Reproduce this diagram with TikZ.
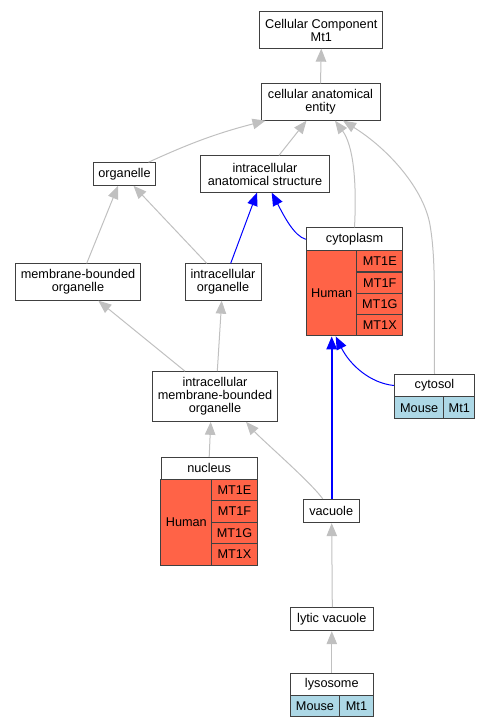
\documentclass[tikz,border=0pt]{standalone}
\usepackage{fontspec}
\setmainfont{Liberation Sans}
\usetikzlibrary{arrows.meta}

\definecolor{boxline}{HTML}{404040}
\definecolor{edgegray}{HTML}{C0C0C0}
\definecolor{tomato}{HTML}{FF6347}
\definecolor{lightblue}{HTML}{ADD8E6}
\newcommand\termfont{\fontsize{12.7}{13}\selectfont}

\tikzset{
  term/.style={draw=boxline, line width=1pt, fill=white, inner sep=0pt, align=center, font=\termfont},
  human/.style={term, fill=tomato},
  mouse/.style={term, fill=lightblue},
  isa/.style={draw=edgegray, line width=1pt, -{Triangle[length=13pt,width=10.5pt]}},
  partof/.style={draw=blue, line width=1pt, -{Triangle[length=13pt,width=10.5pt]}},
}

\begin{document}
\begin{tikzpicture}[x=1pt,y=-1pt]
  \useasboundingbox (0,0) rectangle (491,728);
  % terms
  \node[term, minimum width=122.7, minimum height=36.3] (cc) at (321.3,30) {Cellular Component\\Mt1};
  \node[term, minimum width=119, minimum height=36.3] (cae) at (320.5,102) {cellular anatomical\\entity};
  \node[term, minimum width=62.7, minimum height=22.6] (org) at (124.5,174) {organelle};
  \node[term, minimum width=128.3, minimum height=36.3] (ias) at (265,174) {intracellular\\anatomical structure};
  \node[term, minimum width=124.3, minimum height=36.3] (mbo) at (78,282) {membrane-bounded\\organelle};
  \node[term, minimum width=76, minimum height=36.3] (io) at (223,282) {intracellular\\organelle};
  \node[term, minimum width=124.3, minimum height=49.6] (imbo) at (215,396.5) {intracellular\\membrane-bounded\\organelle};
  \node[term, minimum width=55.7, minimum height=23.4] (vac) at (331.2,511) {vacuole};
  \node[term, minimum width=83, minimum height=23] (lytic) at (331.8,619.2) {lytic vacuole};
  % cytoplasm
  \node[term, minimum width=96.4, minimum height=22.7] (cyto) at (354.5,239.3) {cytoplasm};
  \node[human, minimum width=50.7, minimum height=85.3] (cytohuman) at (331.7,293.3) {Human};
  \node[human, minimum width=45.7, minimum height=21.3] (cytoe) at (379.8,261.3) {MT1E};
  \node[human, minimum width=45.7, minimum height=21.3] (cytof) at (379.8,282.7) {MT1F};
  \node[human, minimum width=45.7, minimum height=21.3] (cytog) at (379.8,304) {MT1G};
  \node[human, minimum width=45.7, minimum height=21.3] (cytox) at (379.8,325.3) {MT1X};
  % cytosol
  \node[term, minimum width=80.4, minimum height=22.4] (cytosol) at (434.5,385.5) {cytosol};
  \node[mouse, minimum width=49.7, minimum height=22.3] (cytosolmouse) at (419.2,407.8) {Mouse};
  \node[mouse, minimum width=30.7, minimum height=22.3] (cytosolmt) at (459.3,407.8) {Mt1};
  % nucleus
  \node[term, minimum width=96.3, minimum height=22] (nuc) at (209.2,468.3) {nucleus};
  \node[human, minimum width=50.7, minimum height=85.7] (nuchuman) at (186.3,522.2) {Human};
  \node[human, minimum width=45.6, minimum height=21.4] (nuce) at (234.5,490) {MT1E};
  \node[human, minimum width=45.6, minimum height=21.4] (nucf) at (234.5,511.5) {MT1F};
  \node[human, minimum width=45.6, minimum height=21.4] (nucg) at (234.5,533) {MT1G};
  \node[human, minimum width=45.6, minimum height=21.4] (nucx) at (234.5,554.3) {MT1X};
  % lysosome
  \node[term, minimum width=83, minimum height=22.4] (lyso) at (331.8,684.5) {lysosome};
  \node[mouse, minimum width=49.4, minimum height=21] (lysomouse) at (315,706.2) {Mouse};
  \node[mouse, minimum width=33.6, minimum height=21] (lysomt) at (356.5,706.2) {Mt1};
  % is_a
  \draw[isa] (cae.north) -- (cc.south);
  \draw[isa] ([xshift=24pt]org.north) to[bend left=5] ([xshift=-55pt]cae.south);
  \draw[isa] ([xshift=14pt]ias.north) -- ([xshift=-14pt]cae.south);
  \draw[isa] (cyto.north) .. controls (357,180) and (353,145) .. ([xshift=14.5pt]cae.south);
  \draw[isa] (cytosol.north) .. controls (434,300) and (436,260) .. (430,225) .. controls (424,190) and (390,150) .. ([xshift=22.5pt]cae.south);
  \draw[isa] ([xshift=8.7pt]mbo.north) -- ([xshift=-6.5pt]org.south);
  \draw[isa] ([xshift=-16.3pt]io.north) -- ([xshift=9pt]org.south);
  \draw[isa] ([xshift=-30pt]imbo.north) -- ([xshift=20.3pt]mbo.south);
  \draw[isa] ([xshift=2.3pt]imbo.north) -- ([xshift=-1.3pt]io.south);
  \draw[isa] (nuc.north) -- ([xshift=-4.3pt]imbo.south);
  \draw[isa] ([xshift=-8.5pt]vac.north) .. controls (310.7,482) and (261,439) .. ([xshift=31pt]imbo.south);
  \draw[isa] ([xshift=0.5pt]lytic.north) -- ([xshift=0.5pt]vac.south);
  \draw[isa] (lyso.north) -- (lytic.south);
  % part_of
  \draw[partof] ([xshift=7.7pt]io.north) -- ([xshift=-8pt]ias.south);
  \draw[partof] (cyto.west) .. controls (294,236) and (284,216) .. ([xshift=6.7pt]ias.south);
  \draw[partof, line width=1.6pt] ([xshift=0.5pt]vac.north) -- (cytohuman.south);
  \draw[partof] (cytosol.west) .. controls (370,383) and (350,365) .. ([xshift=4pt]cytohuman.south);
\end{tikzpicture}
\end{document}
